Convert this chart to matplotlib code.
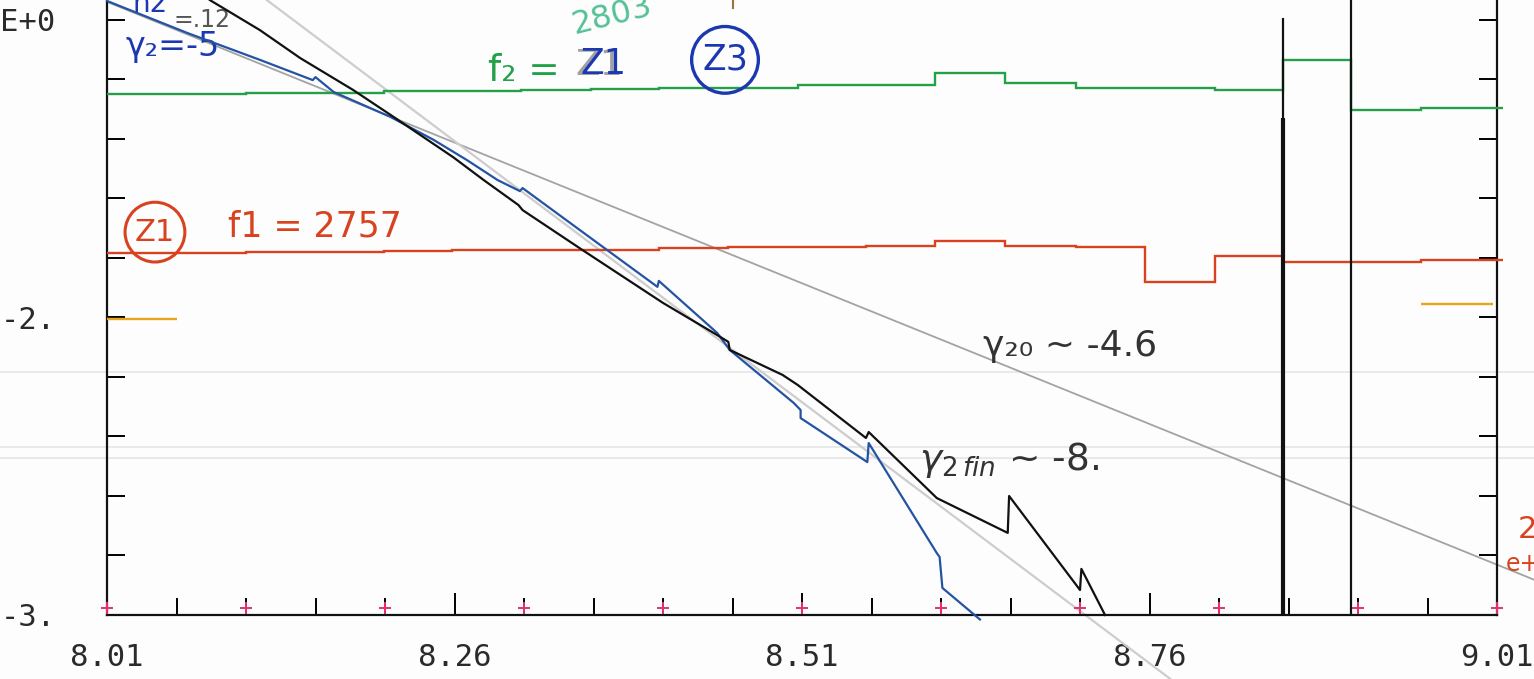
import matplotlib
matplotlib.use('Agg')
import matplotlib.pyplot as plt

# bin edges of the plotter histogram (x window 8.01 .. 9.01)
bin_edges = [8.010, 8.060, 8.110, 8.158, 8.209, 8.258, 8.308, 8.358, 8.407, 8.457,
             8.507, 8.556, 8.606, 8.656, 8.707, 8.757, 8.807, 8.856, 8.905, 8.955, 9.014]

# f2 (Z3) and f1 (Z1) levels per bin
f2_level = [-1.250, -1.249, -1.247, -1.244, -1.240, -1.237, -1.234, -1.233, -1.230, -1.229,
            -1.220, -1.220, -1.178, -1.212, -1.229, -1.227, -1.234, -1.134, -1.303, -1.297]
f1_level = [-1.782, -1.782, -1.781, -1.779, -1.775, -1.773, -1.773, -1.772, -1.765, -1.762,
            -1.762, -1.761, -1.743, -1.759, -1.764, -1.881, -1.793, -1.815, -1.812, -1.807]

# orange reference level, only first and last bin are on scale
orange_x0 = [8.009, 8.955]
orange_x1 = [8.060, 9.007]
orange_level = [-2.005, -1.955]

# gamma2 curves
black_x = [8.084, 8.120, 8.149, 8.187, 8.214, 8.259, 8.281, 8.306, 8.309, 8.352,
           8.410, 8.449, 8.457, 8.458, 8.496, 8.507, 8.556, 8.558, 8.607, 8.658,
           8.659, 8.710, 8.711, 8.728]
black_y = [-0.933, -1.034, -1.128, -1.235, -1.319, -1.461, -1.538, -1.622, -1.639, -1.773,
           -1.951, -2.059, -2.082, -2.109, -2.193, -2.227, -2.405, -2.385, -2.607, -2.724,
           -2.600, -2.916, -2.845, -3.000]

blue_x = [8.010, 8.068, 8.120, 8.158, 8.160, 8.173, 8.214, 8.245, 8.269, 8.291,
          8.307, 8.309, 8.363, 8.406, 8.407, 8.449, 8.458, 8.504, 8.509, 8.509,
          8.557, 8.558, 8.607, 8.609, 8.611, 8.638]
blue_y = [-0.936, -1.044, -1.134, -1.202, -1.192, -1.242, -1.326, -1.403, -1.471, -1.538,
          -1.575, -1.565, -1.750, -1.897, -1.877, -2.052, -2.109, -2.287, -2.311, -2.338,
          -2.486, -2.422, -2.792, -2.805, -2.909, -3.015]

# off-scale black bins
spike_x = [8.856, 8.905]
spike_top = [-0.993, -0.933]

# slope fits drawn by hand
fit20_x = [8.010, 9.037]
fit20_y = [-0.939, -2.882]
fitfin_x = [8.125, 8.775]
fitfin_y = [-0.933, -3.215]

plus_x = [8.01, 8.11, 8.21, 8.31, 8.41, 8.51, 8.61, 8.71, 8.81, 8.91, 9.01]
xlabel_pos = [8.01, 8.26, 8.51, 8.76, 9.01]
xlabel_txt = ['8.01', '8.26', '8.51', '8.76', '9.01']
ylabel_pos = [-3.0, -2.0, -1.0]
ylabel_txt = ['-3.', '-2.', '-1.E+0']

RED = '#d9421e'
GREEN = '#23a048'
BLUE = '#2553a3'
INK_BLUE = '#1c38b0'
ORANGE = '#e8a41c'


def main():
    fig = plt.figure(figsize=(15.34, 6.79), dpi=100)
    fig.patch.set_facecolor('#fdfdfd')
    ax = fig.add_axes([107 / 1534, 1 - 615 / 679, 1390 / 1534, 615 / 679])
    ax.set_facecolor('none')
    ax.set_xlim(8.01, 9.01)
    ax.set_ylim(-3.0, -0.9328)

    # faint ruled lines of the paper
    for yy in [-2.184, -2.435, -2.472]:
        ax.axhline(yy, color='#e6e6e6', lw=1.2, zorder=0, clip_on=False)
        ax.plot([7.9, 8.01], [yy, yy], color='#e6e6e6', lw=1.2, zorder=0, clip_on=False)
        ax.plot([9.01, 9.05], [yy, yy], color='#e6e6e6', lw=1.2, zorder=0, clip_on=False)

    # fit lines
    ax.plot(fit20_x, fit20_y, color='#a3a3a3', lw=1.3, clip_on=False, zorder=2)
    ax.plot(fitfin_x, fitfin_y, color='#cdcdcd', lw=1.6, clip_on=False, zorder=2)

    # histogram levels
    ax.stairs(f2_level, bin_edges, baseline=None, color=GREEN, lw=1.7, clip_on=False, zorder=3)
    ax.stairs(f1_level, bin_edges, baseline=None, color=RED, lw=1.7, clip_on=False, zorder=3)
    ax.hlines(orange_level, orange_x0, orange_x1, color=ORANGE, lw=1.7, zorder=3)

    # gamma curves
    ax.plot(blue_x, blue_y, color=BLUE, lw=1.6, clip_on=False, zorder=4)
    ax.plot(black_x, black_y, color='#111111', lw=1.6, clip_on=False, zorder=5)
    ax.vlines(spike_x, spike_top, -3.0, color='#111111', lw=1.6, zorder=5)
    ax.vlines(spike_x[0], -1.329, -3.0, color='#111111', lw=3.0, zorder=5)
    ax.plot([8.4604, 8.4604], [-0.933, -0.96], color='#a07040', lw=1.5, zorder=5)

    # red plotter crosses along the x axis
    ax.plot(plus_x, [-2.975] * len(plus_x), '+', color='#e8306a', ms=8, mew=1.4,
            clip_on=False, zorder=6)

    # frame
    for side in ['left', 'bottom', 'right']:
        ax.spines[side].set_linewidth(1.6)
        ax.spines[side].set_color('#111111')
    ax.spines['top'].set_visible(False)

    ax.set_xticks(xlabel_pos)
    ax.set_xticklabels(xlabel_txt)
    ax.set_xticks([8.06, 8.11, 8.16, 8.21, 8.31, 8.36, 8.41, 8.46, 8.56, 8.61,
                   8.66, 8.71, 8.81, 8.86, 8.91, 8.96], minor=True)
    ax.set_yticks(ylabel_pos)
    ax.set_yticklabels(ylabel_txt)
    ax.set_yticks([-2.8, -2.6, -2.4, -2.2, -1.8, -1.6, -1.4, -1.2], minor=True)
    ax.tick_params(axis='x', which='major', direction='in', length=16, width=1.4,
                   pad=20, labelsize=22, labelcolor='#2a2a2a')
    ax.tick_params(axis='x', which='minor', direction='in', length=12, width=1.4)
    ax.tick_params(axis='y', which='both', direction='in', length=13, width=1.4,
                   left=True, right=True, pad=37, labelsize=22, labelcolor='#2a2a2a')
    for lab in ax.get_xticklabels() + ax.get_yticklabels():
        lab.set_family('DejaVu Sans Mono')

    # hand written notes
    hand = dict(family='DejaVu Sans', va='center', ha='left')
    ax.text(8.0445, -1.713, 'Z1', color=RED, fontsize=22, ha='center', va='center',
            bbox=dict(boxstyle='circle,pad=0.32', fc='none', ec=RED, lw=2.2))
    ax.text(8.097, -1.695, 'f1 = 2757', color=RED, fontsize=25, **hand)
    ax.text(8.284, -1.170, 'f₂ =', color=GREEN, fontsize=27, **hand)
    ax.text(8.347, -1.152, 'Z1', color='#8a8a8a', fontsize=26, alpha=0.8, **hand)
    ax.text(8.351, -1.147, 'Z1', color=INK_BLUE, fontsize=25, **hand)
    ax.text(8.342, -0.985, '2803', color='#55c196', fontsize=23, rotation=14, **hand)
    ax.text(8.4546, -1.134, 'Z3', color=INK_BLUE, fontsize=25, ha='center', va='center',
            bbox=dict(boxstyle='circle,pad=0.3', fc='none', ec=INK_BLUE, lw=2.4))
    ax.text(8.028, -0.945, 'h2', color=INK_BLUE, fontsize=20, **hand)
    ax.text(8.058, -1.000, '=.12', color='#555555', fontsize=17, **hand)
    ax.text(8.023, -1.090, 'γ₂=-5', color=INK_BLUE, fontsize=24, **hand)
    ax.text(8.640, -2.095, 'γ₂₀ ~ -4.6', color='#333333', fontsize=26, **hand)
    ax.text(8.594, -2.480, r'$\gamma_{2\,fin}$ ~ -8.', color='#333333', fontsize=27, **hand)
    fig.text(1518 / 1534, 1 - 530 / 679, '2', color=RED, fontsize=22, va='center', ha='left')
    fig.text(1506 / 1534, 1 - 564 / 679, 'e+', color=RED, fontsize=17, va='center', ha='left')

    fig.savefig('out.png', dpi=100)


if __name__ == "__main__":
    main()
